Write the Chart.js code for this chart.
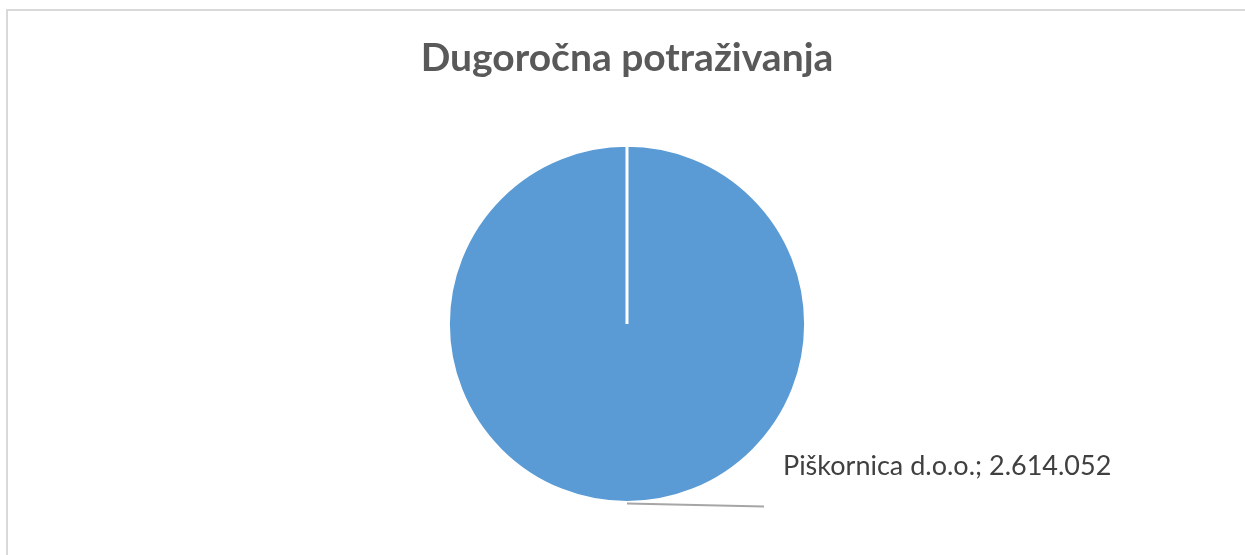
<!DOCTYPE html>
<html lang="hr">
<head>
    <meta charset="UTF-8">
    <title>Dugoročna potraživanja</title>
    <script src="https://cdn.jsdelivr.net/npm/chart.js"></script>
    <style>
        html, body {
            margin: 0;
            padding: 0;
            background: #ffffff;
            overflow: hidden;
        }
        #frame {
            position: absolute;
            left: 6px;
            top: 9px;
            width: 1300px;
            height: 600px;
            border-left: 2px solid #d9d9d9;
            border-top: 2px solid #d9d9d9;
        }
        #chartContainer {
            position: absolute;
            left: 0;
            top: 0;
            width: 1245px;
            height: 555px;
        }
    </style>
</head>
<body>

<div id="frame"></div>
<div id="chartContainer">
    <canvas id="pieChart"></canvas>
</div>

<script>
    // Chart data
    const chartTitle = 'Dugoročna potraživanja';
    const categories = ['Piškornica d.o.o.'];
    const amounts = [2614052];

    // Croatian number format: 2.614.052
    function formatAmount(v) {
        return v.toString().replace(/\B(?=(\d{3})+(?!\d))/g, '.');
    }

    // Draws the data label with its leader line, like the Excel chart
    const pieLabels = {
        id: 'pieLabels',
        afterDatasetsDraw(chart) {
            const ctx = chart.ctx;
            const arc = chart.getDatasetMeta(0).data[0];
            const {x, y, outerRadius} = arc.getProps(['x', 'y', 'outerRadius'], true);

            ctx.save();
            ctx.strokeStyle = '#a6a6a6';
            ctx.lineWidth = 2;
            ctx.beginPath();
            ctx.moveTo(x, y + outerRadius + 1);
            ctx.lineTo(x + 137, y + outerRadius + 4);
            ctx.stroke();

            ctx.fillStyle = '#404040';
            ctx.font = '27px Lato';
            ctx.textAlign = 'left';
            ctx.textBaseline = 'alphabetic';
            ctx.fillText(categories[0] + '; ' + formatAmount(amounts[0]), x + 156, y + 151);
            ctx.restore();
        }
    };

    const ctx = document.getElementById('pieChart').getContext('2d');
    const pieChart = new Chart(ctx, {
        type: 'pie',
        data: {
            labels: categories,
            datasets: [{
                data: amounts,
                backgroundColor: ['#5b9bd5'],
                borderColor: '#ffffff',
                borderWidth: 3,
                hoverOffset: 0,
                offset: 0
            }]
        },
        options: {
            responsive: true,
            maintainAspectRatio: false,
            animation: false,
            layout: {
                padding: {left: 9, right: 0, top: 0, bottom: 51}
            },
            plugins: {
                legend: {display: false},
                tooltip: {enabled: false},
                title: {
                    display: true,
                    text: chartTitle,
                    color: '#595959',
                    font: {family: 'Lato', size: 39, weight: 'bold'},
                    padding: {top: 35, bottom: 62}
                }
            }
        },
        plugins: [pieLabels]
    });
</script>

</body>
</html>
